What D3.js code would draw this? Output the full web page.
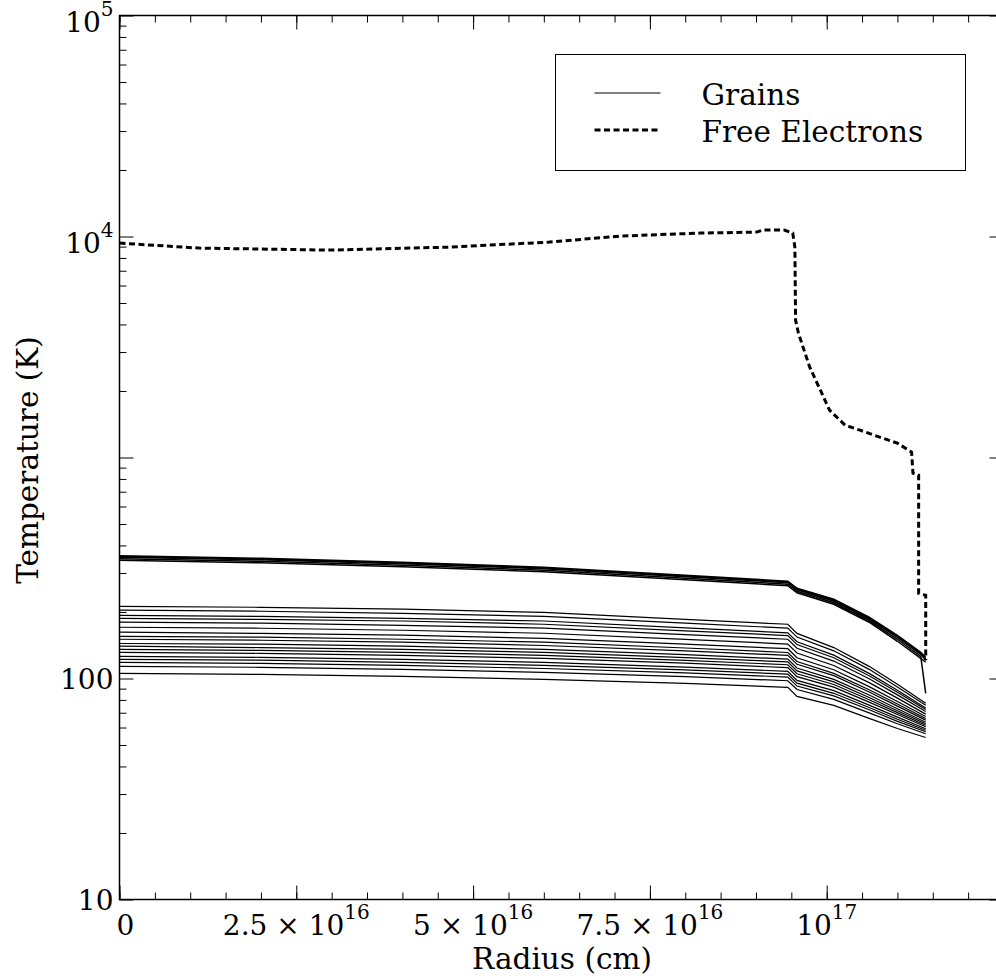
<!DOCTYPE html>
<html>
<head>
<meta charset="utf-8">
<script src="https://cdn.jsdelivr.net/npm/d3@7"></script>
<style>
  body { margin: 0; background: #fff; }
  text { font-family: "DejaVu Serif", serif; fill: #000; }
</style>
</head>
<body>
<div id="chart"></div>
<script>
// radius grid (cm) shared by the grain curves
var GRAIN_R = [0, 20e15, 40e15, 60e15, 80e15, 94.5e15, 95.8e15, 101e15, 106e15, 110e15, 114e15];

// individual grain temperatures (K), one array per grain size
var GRAIN_T = [
  [212, 210, 206, 199, 185, 176, 160, 138, 113.5, 94.1, 77.2],
  [204, 201.5, 197, 191, 178, 169, 154, 133.4, 110, 91.6, 75.6],
  [193, 191, 187, 182, 169.6, 161, 146.6, 127.6, 105.5, 88.5, 73.5],
  [187, 185, 182, 176, 164.4, 156.4, 142.4, 124.2, 103, 86.6, 72.4],
  [180, 178, 174, 169, 158, 150.5, 137, 119.9, 99.8, 84.3, 70.9],
  [170.6, 168.8, 165.3, 160.2, 150.3, 143.2, 130.5, 114.5, 95.8, 81.5, 69],
  [162, 160, 157, 152, 143, 136.4, 124.2, 109.5, 91.9, 78.7, 67.3],
  [155, 154, 150.5, 146, 137.4, 131.1, 119.4, 105.5, 89, 76.6, 65.9],
  [150.5, 149, 146, 141, 133.4, 127.3, 115.9, 103, 86.9, 75, 64.8],
  [144, 143, 140, 135.5, 128.3, 122.4, 111.5, 99.1, 84.2, 73, 63.4],
  [140, 138, 135.5, 131.4, 124.4, 118.9, 108.3, 96.5, 82.1, 71.5, 62.4],
  [135.5, 134, 131.4, 127.3, 120.8, 115.4, 105.1, 93.9, 80.1, 70.1, 61.4],
  [131.4, 130, 127.3, 123.4, 117.3, 112, 102, 91.4, 78.2, 68.7, 60.5],
  [126, 124.7, 122, 118.4, 112.6, 107.8, 98.1, 88.1, 75.8, 66.9, 59.2],
  [122, 121, 118.4, 114.7, 109.3, 104.6, 95.3, 85.7, 73.9, 65.4, 58.3],
  [118.4, 117, 114.7, 111, 106, 101.5, 92.4, 83.4, 72.2, 64, 57.4],
  [113.5, 112.4, 110, 106.6, 101.9, 97.7, 89.2, 80.5, 69.9, 62.4, 56.2],
  [105.5, 104.4, 102.3, 99.1, 95.1, 91.2, 83, 75.6, 66, 59.4, 54.1]
];

// the hot grains bunch together into one thick band
var BAND_R = [0, 20e15, 40e15, 60e15, 80e15, 94.5e15, 95.8e15, 101e15, 106e15, 110e15, 113.3e15, 114e15];
var BAND_T = [
  [359.3, 350.0, 335.7, 318.6, 293.2, 275.4, 256.1, 228.3, 189.3, 156.9, 131.4, 124.7],
  [356.5, 347.3, 333.1, 316.1, 290.9, 273.3, 254.0, 226.0, 187.3, 155.2, 130.0, 122.8],
  [353.7, 344.6, 330.5, 313.7, 288.6, 271.2, 252.0, 223.6, 185.4, 153.6, 128.7, 120.9],
  [348.2, 339.2, 325.3, 308.8, 284.2, 267.0, 248.1, 220.1, 182.5, 150.5, 126.0, 85.6],
  [342.8, 333.9, 320.3, 304.1, 279.8, 262.8, 244.3, 216.7, 179.7, 147.4, 123.4, 118.4]
];

// free electron temperature
var ELECTRON_R = [0, 11.3e15, 29.7e15, 46.7e15, 60.8e15, 70.7e15, 82.1e15, 90.1e15, 90.9e15, 94.0e15,
  95.2e15, 95.5e15, 95.6e15, 96.0e15, 97.6e15, 99.3e15, 100.4e15, 102.6e15, 104.7e15, 107.5e15,
  110.0e15, 112.0e15, 112.2e15, 113.0e15, 113.0e15, 114.0e15, 114.0e15];
var ELECTRON_T = [9335, 8861, 8679, 8954, 9434, 10042, 10361, 10469, 10690, 10690,
  10361, 8954, 4182, 3653, 2563, 1955, 1637, 1400, 1329, 1236,
  1161, 1057, 849, 832, 243, 238, 121];

// tick labels
var X_TICKS = [0, 2.5e16, 5e16, 7.5e16, 1e17];
var X_TICK_BASE = ["0", "2.5 × 10", "5 × 10", "7.5 × 10", "10"];
var X_TICK_SUP = ["", "16", "16", "16", "17"];
var Y_TICKS = [10, 100, 1e4, 1e5];
var Y_TICK_BASE = ["10", "100", "10", "10"];
var Y_TICK_SUP = ["", "", "4", "5"];

var LEGEND_LABELS = ["Grains", "Free Electrons"];

function pairs(rs, ts) {
  var arr = [];
  for (var i = 0; i < rs.length; i++) {
    arr.push([rs[i], ts[i]]);
  }
  return arr;
}

var margin = {top: 15.5, left: 119.5},
  width = 884,
  height = 884;

var x = d3.scaleLinear().domain([0, 1.25e17]).range([0, width]);
var y = d3.scaleLog().domain([10, 1e5]).range([height, 0]);

var svg = d3.select("#chart").append("svg")
    .attr("width", 996)
    .attr("height", 976)
  .append("g")
    .attr("transform", "translate(" + margin.left + "," + margin.top + ")");

var line = d3.line()
  .x(function(d) { return x(d[0]); })
  .y(function(d) { return y(d[1]); });

// grains
GRAIN_T.forEach(function(ts) {
  svg.append("path")
    .attr("d", line(pairs(GRAIN_R, ts)))
    .style("fill", "none")
    .style("stroke", "#000")
    .style("stroke-width", 1.2);
});
BAND_T.forEach(function(ts) {
  svg.append("path")
    .attr("d", line(pairs(BAND_R, ts)))
    .style("fill", "none")
    .style("stroke", "#000")
    .style("stroke-width", 1.5);
});

// electrons
svg.append("path")
  .attr("d", line(pairs(ELECTRON_R, ELECTRON_T)))
  .style("fill", "none")
  .style("stroke", "#000")
  .style("stroke-width", 3)
  .style("stroke-dasharray", "6,3.5");

// ticks, all pointing inward
var xMinor = d3.range(0, 1.25e17 + 1, 5e15);
var yMinor = [];
[10, 100, 1000, 10000].forEach(function(dec) {
  for (var k = 2; k <= 9; k++) yMinor.push(dec * k);
});
var yMajor = [10, 100, 1000, 1e4, 1e5];

function tickAxis(axis, vals, size) {
  return axis.tickValues(vals).tickSize(-size).tickSizeOuter(0).tickFormat("");
}

[[xMinor, 7], [X_TICKS, 14]].forEach(function(t) {
  svg.append("g").attr("class", "tk")
    .attr("transform", "translate(0," + height + ")")
    .call(tickAxis(d3.axisBottom(x), t[0], t[1]));
  svg.append("g").attr("class", "tk")
    .call(tickAxis(d3.axisTop(x), t[0], t[1]));
});
[[yMinor, 7], [yMajor, 14]].forEach(function(t) {
  svg.append("g").attr("class", "tk")
    .call(tickAxis(d3.axisLeft(y), t[0], t[1]));
  svg.append("g").attr("class", "tk")
    .attr("transform", "translate(" + width + ",0)")
    .call(tickAxis(d3.axisRight(y), t[0], t[1]));
});
svg.selectAll(".tk .domain").remove();
svg.selectAll(".tk line").style("stroke", "#000").style("stroke-width", 1);

// frame
svg.append("rect")
  .attr("width", width)
  .attr("height", height)
  .style("fill", "none")
  .style("stroke", "#000")
  .style("stroke-width", 1.5);

// x tick labels
X_TICKS.forEach(function(v, i) {
  var t = svg.append("text")
    .attr("x", x(v) + (v === 0 ? 6 : 0))
    .attr("y", height + 35)
    .attr("text-anchor", "middle")
    .style("font-size", "28px");
  t.append("tspan").text(X_TICK_BASE[i]);
  if (X_TICK_SUP[i]) {
    t.append("tspan").attr("dy", -16).style("font-size", "20px").text(X_TICK_SUP[i]);
  }
});

// y tick labels
Y_TICKS.forEach(function(v, i) {
  var t = svg.append("text")
    .attr("x", -6)
    .attr("y", y(v) + (Y_TICK_SUP[i] ? 16.5 : 10))
    .attr("text-anchor", "end")
    .style("font-size", "28px");
  t.append("tspan").text(Y_TICK_BASE[i]);
  if (Y_TICK_SUP[i]) {
    t.append("tspan").attr("dy", -16).style("font-size", "20px").text(Y_TICK_SUP[i]);
  }
});

// axis titles
svg.append("text")
  .attr("x", 562 - margin.left)
  .attr("y", 969 - margin.top)
  .attr("text-anchor", "middle")
  .style("font-size", "29.5px")
  .text("Radius (cm)");

svg.append("text")
  .attr("transform", "translate(" + (38 - margin.left) + "," + (460 - margin.top) + ")rotate(-90)")
  .attr("text-anchor", "middle")
  .style("font-size", "29.5px")
  .text("Temperature (K)");

// legend
var lg = svg.append("g")
  .attr("transform", "translate(" + (555.5 - margin.left) + "," + (54.5 - margin.top) + ")");
lg.append("rect")
  .attr("width", 410)
  .attr("height", 116)
  .style("fill", "#fff")
  .style("stroke", "#000")
  .style("stroke-width", 1);
lg.append("line")
  .attr("x1", 39).attr("x2", 105).attr("y1", 38.5).attr("y2", 38.5)
  .style("stroke", "#000").style("stroke-width", 1.2);
lg.append("line")
  .attr("x1", 39).attr("x2", 105).attr("y1", 75.5).attr("y2", 75.5)
  .style("stroke", "#000").style("stroke-width", 3).style("stroke-dasharray", "6,3.5");
LEGEND_LABELS.forEach(function(s, i) {
  lg.append("text")
    .attr("x", 146)
    .attr("y", 50 + i * 37)
    .style("font-size", "29.5px")
    .text(s);
});
</script>
</body>
</html>
